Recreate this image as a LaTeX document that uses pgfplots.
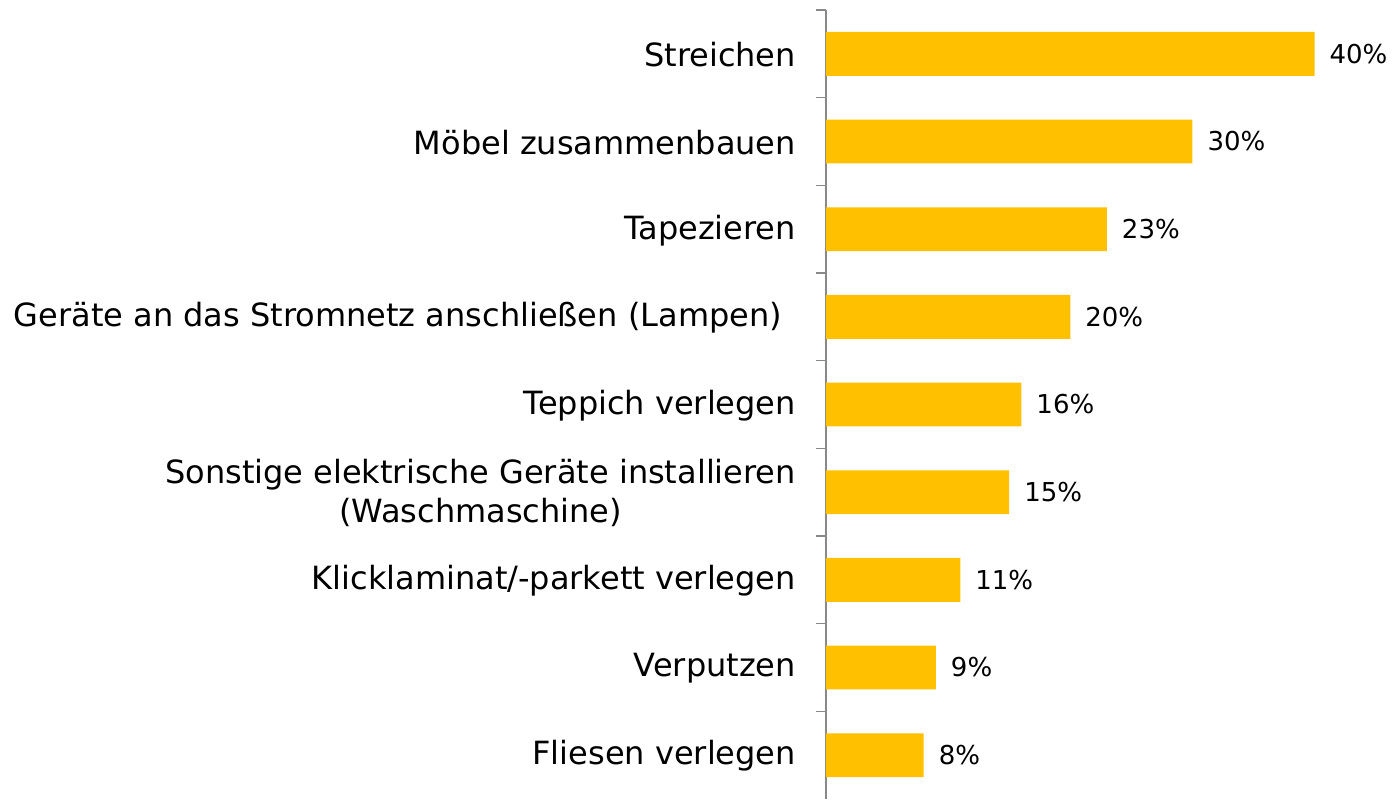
\documentclass[border=0pt]{standalone}
\usepackage{pgfplots}
\pgfplotsset{compat=1.18}
\usepackage{fontspec}
\setmainfont{DejaVu Sans}
\definecolor{baryellow}{HTML}{FFC000}
\definecolor{axgray}{HTML}{898989}
\begin{document}
\begin{tikzpicture}
\begin{axis}[
  name=ax,
  xbar, scale only axis, width=284pt, height=394.5pt,
  xmin=0, xmax=46.5, ymin=-0.5, ymax=8.5,
  axis x line=none, axis y line*=left,
  y axis line style={-, axgray, line width=0.8pt},
  ytick={0,...,8},
  yticklabels={Fliesen verlegen, Verputzen, Klicklaminat/-parkett verlegen, {Sonstige elektrische Geräte installieren\\(Waschmaschine)}, Teppich verlegen, {Geräte an das Stromnetz anschließen (Lampen)\hspace{7pt}}, Tapezieren, Möbel zusammenbauen, Streichen},
  major tick length=0pt,
  minor ytick={0.5,1.5,...,8.5},
  minor tick length=5pt, tick align=outside,
  minor tick style={axgray, line width=0.8pt},
  yticklabel style={font=\fontsize{16}{19.5}\selectfont, align=center, text=black, xshift=-11.5pt, yshift=-0.5pt},
  /pgf/number format/assume math mode=true,
  bar width=0.5,
  clip=false,
  nodes near coords={\pgfmathprintnumber{\pgfplotspointmeta}\%},
  every node near coord/.append style={font=\fontsize{13}{15}\selectfont, text=black, xshift=4pt},
]
\addplot[draw=none, fill=baryellow] coordinates {
(8,0) (9,1) (11,2) (15,3) (16,4) (20,5) (23,6) (30,7) (40,8)
};
\end{axis}
\pgfresetboundingbox
\path (ax.south west) +(-413pt,0) rectangle +(284pt,399.5pt);
\end{tikzpicture}
\end{document}
